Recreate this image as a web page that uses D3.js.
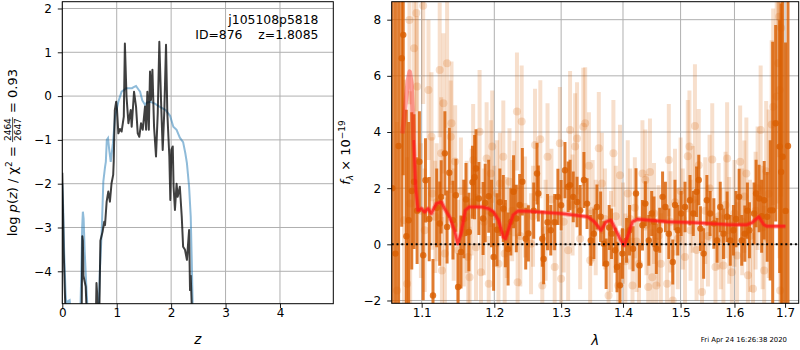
<!DOCTYPE html>
<html>
<head>
<meta charset="utf-8">
<script src="https://cdn.jsdelivr.net/npm/d3@7"></script>
<style>
  body { margin: 0; background: #fff; }
  svg { display: block; font-family: "DejaVu Sans", sans-serif; }
  text { white-space: pre; }
</style>
</head>
<body>
<svg id="chart" width="800" height="350"></svg>
<script>
'use strict';

// Header values
var objectName = 'j105108p5818';
var objectId = 876;
var zBest = '1.8085';
var chiNum = '2464';
var chiDen = '2647';
var chiRatio = '0.93';
var stampText = 'Fri Apr 24 16:26:38 2020';

// log p(z), grism fit (dark line)
var zGrism = [0.000, 0.010, 0.025, 0.045, 0.065, 0.355, 0.368, 0.378, 0.388, 0.405, 0.430, 0.455, 0.615, 0.628, 0.640, 0.655, 0.680, 0.700, 0.720, 0.740, 0.770, 0.785, 0.815, 0.845, 0.875, 0.905, 0.935, 0.945, 0.965, 0.990, 1.005, 1.030, 1.060, 1.090, 1.130, 1.150, 1.180, 1.215, 1.257, 1.275, 1.318, 1.355, 1.386, 1.415, 1.447, 1.478, 1.520, 1.540, 1.563, 1.590, 1.612, 1.630, 1.656, 1.686, 1.722, 1.754, 1.783, 1.814, 1.845, 1.875, 1.906, 1.930, 1.967, 1.985, 2.004, 2.030, 2.045, 2.070, 2.100, 2.120, 2.160, 2.195, 2.220, 2.255, 2.290, 2.330, 2.347, 2.360, 2.390];
var lnpGrism = [-1.75, -2.4, -3.5, -4.4, -5.2, -5.2, -3.2, -3.3, -4.1, -4.2, -4.35, -5.2, -5.2, -4.27, -4.5, -5.2, -5.0, -3.3, -3.2, -3.1, -2.87, -2.95, -2.41, -2.18, -2.41, -1.99, -1.80, -1.5, -0.32, -0.13, -0.3, -0.85, -0.75, -0.81, -0.47, 1.2, -0.01, -0.62, -0.32, -0.70, 0.10, -0.24, -0.85, -0.93, -0.62, -0.77, -0.24, -0.77, 0.10, -0.77, 0.56, -0.09, 0.60, -0.70, -1.38, -0.39, 1.24, -0.09, -1.23, -0.32, 1.17, -0.39, -1.38, -2.37, -1.23, -1.15, -2.07, -2.60, -2.0, -2.3, -2.07, -2.75, -3.44, -3.51, -3.74, -3.06, -4.43, -4.1, -5.2];

// log p(z), prior (blue line)
var zPrior = [0.000, 0.015, 0.035, 0.060, 0.085, 0.105, 0.135, 0.165, 0.330, 0.350, 0.365, 0.378, 0.392, 0.410, 0.440, 0.470, 0.665, 0.690, 0.724, 0.754, 0.785, 0.800, 0.818, 0.840, 0.860, 0.890, 0.930, 0.970, 1.030, 1.090, 1.180, 1.280, 1.320, 1.355, 1.400, 1.430, 1.470, 1.520, 1.550, 1.620, 1.700, 1.800, 1.900, 1.980, 2.040, 2.100, 2.160, 2.220, 2.260, 2.290, 2.330, 2.360, 2.380, 2.400];
var lnpPrior = [-2.0, -2.5, -3.6, -4.5, -5.0, -4.68, -4.66, -5.0, -5.0, -4.0, -3.0, -2.64, -2.8, -3.5, -4.3, -5.0, -5.0, -4.0, -3.1, -1.95, -1.62, -1.5, -1.0, -0.96, -1.2, -1.5, -1.08, -0.47, -0.13, 0.10, 0.18, 0.18, 0.21, 0.23, 0.15, 0.10, -0.1, -0.2, -0.15, -0.13, -0.17, -0.25, -0.32, -0.45, -0.70, -0.77, -0.95, -1.05, -1.3, -1.53, -2.07, -2.75, -3.82, -5.0];

var zTicks = [0, 1, 2, 3, 4];
var lnpTicks = [-4, -3, -2, -1, 0, 1, 2];

// Spectrum, first set (solid points)
var darkWave = [1.062, 1.066, 1.070, 1.074, 1.076, 1.080, 1.083, 1.087, 1.090, 1.094, 1.097, 1.102, 1.105, 1.110, 1.115, 1.120, 1.124, 1.126, 1.131, 1.134, 1.137, 1.142, 1.146, 1.149, 1.153, 1.157, 1.160, 1.164, 1.169, 1.172, 1.174, 1.178, 1.184, 1.187, 1.192, 1.196, 1.199, 1.204, 1.208, 1.213, 1.216, 1.220, 1.224, 1.228, 1.232, 1.237, 1.241, 1.246,
  1.250, 1.258, 1.263, 1.265, 1.271, 1.273, 1.279, 1.284, 1.290, 1.295, 1.300, 1.306, 1.311, 1.314, 1.319, 1.325, 1.330, 1.336, 1.341, 1.347, 1.352, 1.357, 1.363, 1.368, 1.372, 1.377, 1.381, 1.387, 1.390, 1.395, 1.399, 1.406, 1.411, 1.417, 1.422, 1.428, 1.433, 1.438, 1.444, 1.449, 1.453, 1.457, 1.463, 1.468,
  1.473, 1.479, 1.486, 1.490, 1.495, 1.501, 1.508, 1.517, 1.523, 1.529, 1.533, 1.536, 1.542, 1.548, 1.554, 1.561, 1.567, 1.573, 1.579, 1.586, 1.592, 1.598, 1.603, 1.609, 1.614, 1.620, 1.625, 1.629, 1.638, 1.642, 1.648, 1.653, 1.658, 1.664, 1.670, 1.675, 1.681, 1.689, 1.692, 1.695, 1.701, 1.706];
var darkFlux = [2.0, -0.33, 3.5, 6.63, 7.46, 0.29, 0.86, 1.9, 2.23, 1.2, 2.94, -0.39, 2.28, 0.9, -1.82, 1.3, 0.74, 1.69, 3.24, 0.62, 2.55, 0.86, 1.75, -1.52, -0.27, 0.9, 1.6, 0.44, 2.21, 2.39, 2.70, 1.63, 0.92, 1.47, 1.71, 1.1, -0.45, 0.52, 1.5, 1.27, 0.38, -0.17, 0.8, 1.87, 0.92, 1.4, 2.23, 0.2,
  0.39, 1.2, 2.52, 1.81, 0.20, -0.52, 0.79, 0.5, 0.79, 1.69, 1.39, 2.64, 2.05, 2.11, 1.69, 1.51, 1.21, 2.29, 1.45, 0.14, 0.38, 1.33, 0.98, 0.02, -0.69, 0.6, 0.38, -0.21, -0.81, -1.46, -0.33, 0.14, 0.5, -0.16, 1.81, -0.75, 0.68, 1.45, 0.14, 1.10, 0.8, -0.16, 0.5, 1.69,
  1.33, 0.38, -0.63, 1.4, 0.5, 1.10, 1.33, 1.57, 1.10, 1.87, 2.29, 0.56, -0.33, 1.57, 1.10, 0.74, 0.14, 1.33, 0.38, 0.98, 0.14, 0.5, 0.9, 1.69, 0.14, 0.38, 1.2, 0.5, 1.10, 1.81, 1.63, 1.0, 1.57, 0.98, 1.21, 1.21, 4.31, 3.48, 2.58, 3.12, 1.19, 3.5];
var darkErr = [9, 9, 8, 6, 5, 4.5, 3.5, 2.8, 2.4, 1.9, 1.8, 1.6, 1.5, 1.5, 1.3, 1.4, 1.5, 1.3, 1.5, 1.3, 1.6, 1.4, 1.3, 1.2, 1.3, 1.4, 1.3, 1.4, 1.3, 1.5, 1.4, 1.3, 1.3, 1.4, 1.3, 1.2, 1.2, 1.3, 1.2, 1.2, 1.2, 1.3, 1.2, 1.3, 1.2, 1.1, 1.2, 1.1,
  1.0, 1.0, 1.1, 1.0, 1.0, 0.9, 1.0, 0.9, 1.0, 1.0, 0.9, 1.0, 0.9, 0.9, 0.9, 0.9, 0.9, 1.0, 0.9, 0.9, 0.9, 0.8, 0.9, 0.8, 0.9, 0.8, 0.9, 0.8, 0.9, 0.8, 0.9, 0.8, 0.9, 0.8, 0.9, 0.8, 0.9, 0.8, 0.9, 0.8, 0.9, 0.9, 0.8, 0.9,
  0.9, 0.9, 0.8, 0.9, 0.9, 0.8, 0.9, 0.9, 0.8, 0.9, 0.9, 0.8, 0.9, 0.9, 0.8, 0.9, 0.8, 0.9, 0.9, 0.9, 0.9, 0.9, 1.0, 1.0, 0.9, 1.0, 1.0, 1.0, 1.1, 1.2, 1.2, 1.3, 1.4, 1.6, 2.5, 6, 3.5, 4.5, 6, 9, 6, 9];

// Spectrum, second set (faint points)
var lightWave = [1.068, 1.077, 1.081, 1.084, 1.085, 1.090, 1.093, 1.094, 1.099, 1.102, 1.104, 1.109, 1.113, 1.114, 1.118, 1.120, 1.124, 1.126, 1.127, 1.129, 1.131, 1.134, 1.139, 1.140, 1.143, 1.145, 1.149, 1.153, 1.157, 1.161, 1.163, 1.165, 1.168, 1.170, 1.174, 1.179, 1.181, 1.185, 1.189, 1.192, 1.195, 1.197, 1.200, 1.204, 1.206, 1.208, 1.213, 1.215, 1.218, 1.222, 1.226, 1.229, 1.233, 1.234, 1.238, 1.240, 1.245,
  1.254, 1.257, 1.260, 1.268, 1.271, 1.276, 1.279, 1.285, 1.290, 1.298, 1.300, 1.304, 1.311, 1.314, 1.318, 1.322, 1.325, 1.330, 1.335, 1.338, 1.344, 1.346, 1.350, 1.355, 1.360, 1.365, 1.370, 1.376, 1.380, 1.384, 1.388, 1.392, 1.395, 1.400, 1.404, 1.408, 1.412, 1.416, 1.420, 1.423, 1.427, 1.433, 1.438, 1.440, 1.443, 1.446, 1.450, 1.453, 1.457, 1.461, 1.465,
  1.476, 1.479, 1.482, 1.486, 1.490, 1.495, 1.500, 1.504, 1.508, 1.513, 1.516, 1.518, 1.522, 1.526, 1.529, 1.533, 1.539, 1.545, 1.550, 1.553, 1.558, 1.564, 1.570, 1.574, 1.579, 1.583, 1.586, 1.590, 1.595, 1.600, 1.605, 1.611, 1.615, 1.619, 1.623, 1.626, 1.630, 1.636, 1.641, 1.645, 1.651, 1.655, 1.658, 1.662, 1.667, 1.673, 1.676, 1.683, 1.686, 1.688, 1.689, 1.690, 1.692];
var lightFlux = [-1.64, 0.86, -1.4, 7.99, 1.45, 6.98, 8.24, 5.62, 1.2, 8.5, 0.5, 5.5, 3.83, 1.81, 0.98, 1.5, 6.21, 3.24, -0.93, 5.02, -0.33, 6.45, 3.83, 4.31, 0.7, 2.95, -0.21, 1.9, 0.4, 0.98, -0.45, -1.17, 1.5, 3.0, -0.1, 4.01, -0.99, 0.8, 3.06, -1.4, 2.52, 3.48, 1.0, 1.81, -0.69, 2.17, 3.12, -0.33, 0.6, 2.23, 1.2, 1.99, 4.73, -1.35, 0.3, 4.37, 1.33,
  0.02, 1.0, 3.54, 3.74, -1.47, 0.5, 3.12, 1.6, -0.81, 3.6, -1.23, 0.8, -0.21, 4.07, 1.4, 3.48, 3.77, 0.2, 4.19, 4.31, 2.8, -0.57, 1.2, 0.6, 3.42, 2.17, 0.9, -1.82, 0.1, 3.24, 1.0, -1.47, 2.46, 0.4, -0.6, 1.81, 0.9, -1.47, 1.3, 0.1, -0.69, 2.52, 2.29, 0.7, -1.52, 2.58, -1.17, 1.1, -1.47, 0.3, -0.69,
  -1.4, 3.0, 0.8, -2.0, 1.5, 0.2, 1.9, 0.9, -0.45, 3.14, 3.48, 0.5, 1.6, 4.21, -0.2, 2.82, -1.7, 1.2, 0.3, 2.0, 3.02, -0.81, 1.0, 0.2, -0.75, 1.4, 3.06, 0.5, -0.99, 1.1, -0.4, 2.94, 0.8, 1.7, 2.52, -1.1, 0.3, -1.58, 1.2, 2.0, 4.07, 0.6, -0.93, 2.6, 1.8, 4.27, 4.9, 5.26, 6.45, 8.1, 5.5, -1.64, 7.7];
var lightErr = [6, 5, 4.5, 3, 4, 3, 3.5, 2.5, 2.4, 3.5, 2.2, 2.5, 2.3, 2.0, 2.0, 2.1, 2.4, 2.0, 1.9, 2.5, 2.0, 2.3, 2.0, 2.2, 2.0, 2.0, 1.8, 1.9, 1.9, 2.0, 1.9, 1.8, 1.9, 2.0, 1.9, 2.2, 1.8, 1.9, 2.0, 1.7, 1.9, 2.0, 1.8, 1.9, 1.8, 1.8, 2.0, 1.8, 1.8, 1.9, 1.8, 1.7, 2.1, 1.7, 1.8, 2.0, 1.8,
  1.8, 1.8, 2.0, 2.1, 1.7, 1.8, 1.9, 1.8, 1.7, 2.0, 1.7, 1.8, 1.8, 2.1, 1.8, 1.9, 2.0, 1.8, 2.1, 2.0, 1.9, 1.8, 1.8, 1.7, 2.0, 1.8, 1.8, 1.7, 1.8, 1.9, 1.8, 1.7, 1.8, 1.8, 1.7, 1.9, 1.8, 1.7, 1.8, 1.8, 1.7, 1.9, 1.8, 1.8, 1.7, 1.9, 1.7, 1.8, 1.7, 1.8, 1.8,
  1.8, 2.0, 1.8, 1.8, 1.9, 1.8, 1.9, 1.8, 1.8, 2.0, 2.0, 1.8, 1.9, 2.2, 1.8, 2.0, 1.8, 1.9, 1.8, 1.9, 2.0, 1.8, 1.9, 1.8, 1.8, 1.9, 2.0, 1.9, 1.8, 1.9, 1.9, 2.0, 1.9, 2.0, 2.0, 1.9, 2.0, 2.0, 2.1, 2.2, 2.3, 2.2, 2.3, 2.5, 3.0, 3.0, 3.5, 4.0, 5.0, 5.0, 6.0, 6.0, 6.0];

// Best-fit model
var modelWave = [1.0749, 1.0777, 1.0821, 1.0843, 1.0866, 1.0895, 1.0921, 1.0951, 1.0996, 1.1040, 1.1083, 1.1128, 1.1195, 1.1262, 1.1306, 1.1373, 1.1441, 1.1485, 1.1531, 1.1590, 1.1644, 1.1735, 1.1827, 1.1920, 1.1990, 1.2060, 1.2130, 1.2163, 1.2201, 1.2273, 1.2346, 1.2493, 1.2999, 1.3421, 1.3529, 1.3636, 1.3717, 1.3799, 1.3881, 1.3964, 1.4020, 1.4075, 1.4159, 1.4244, 1.4764, 1.5299, 1.5924, 1.6243, 1.6341, 1.6473, 1.6571, 1.6639, 1.7007];
var modelFlux = [3.95, 4.67, 5.86, 6.15, 5.74, 3.71, 2.05, 1.21, 1.27, 1.15, 1.27, 1.10, 1.45, 1.51, 1.27, 0.98, 0.5, 0.02, 0.38, 1.21, 1.33, 1.33, 1.33, 1.27, 1.15, 0.86, 0.26, 0.2, 0.5, 1.04, 1.19, 1.18, 1.10, 0.98, 0.80, 0.5, 0.80, 0.86, 0.5, 0.14, -0.04, 0.26, 0.80, 0.89, 0.80, 0.77, 0.70, 0.70, 0.77, 0.98, 0.70, 0.64, 0.64];

var waveTicks = [1.1, 1.2, 1.3, 1.4, 1.5, 1.6, 1.7];
var fluxTicks = [-2, 0, 2, 4, 6, 8];

var ORANGE = '#d95f02';
var GRID = '#b0b0b0';
var FONT = 12;

// Panel boxes
var L = {x0: 62.3, x1: 333.3, y0: 1.7, y1: 303.7};
var R = {x0: 391.7, x1: 798.7, y0: 1.7, y1: 303.3};

var svg = d3.select('#chart');
svg.append('rect').attr('width', 800).attr('height', 350).attr('fill', '#fff');

var defs = svg.append('defs');
[['clipL', L], ['clipR', R]].forEach(function(c) {
  defs.append('clipPath').attr('id', c[0]).append('rect')
    .attr('x', c[1].x0).attr('y', c[1].y0)
    .attr('width', c[1].x1 - c[1].x0).attr('height', c[1].y1 - c[1].y0);
});

// Scales
var zScale = d3.scaleLinear().domain([0, 4.98]).range([L.x0, L.x1]);
var lnpScale = d3.scaleLinear().domain([-4.74, 2.155]).range([L.y1, L.y0]);
var waveScale = d3.scaleLog().domain([1.0612, 1.728]).range([R.x0, R.x1]);
var fluxScale = d3.scaleLinear().domain([-2.1, 8.64]).range([R.y1, R.y0]);

var drawGrid = function(xs, ys, xt, yt, box) {
  var g = svg.append('g').attr('stroke', GRID).attr('stroke-width', 1);
  g.selectAll('.gx').data(xt).enter().append('line')
    .attr('x1', function(d) { return xs(d); }).attr('x2', function(d) { return xs(d); })
    .attr('y1', box.y0).attr('y2', box.y1);
  g.selectAll('.gy').data(yt).enter().append('line')
    .attr('y1', function(d) { return ys(d); }).attr('y2', function(d) { return ys(d); })
    .attr('x1', box.x0).attr('x2', box.x1);
};

var drawAxes = function(xs, ys, xt, yt, box, xfmt, yfmt) {
  var gx = svg.append('g')
    .attr('transform', 'translate(0,' + box.y1 + ')')
    .call(d3.axisBottom(xs).tickValues(xt).tickFormat(xfmt).tickSize(4.5).tickPadding(0.5));
  var gy = svg.append('g')
    .attr('transform', 'translate(' + box.x0 + ',0)')
    .call(d3.axisLeft(ys).tickValues(yt).tickFormat(yfmt).tickSize(4.5).tickPadding(6));
  [gx, gy].forEach(function(g) {
    g.select('.domain').remove();
    g.attr('font-size', FONT).attr('font-family', 'DejaVu Sans');
    g.selectAll('line').attr('stroke', '#000').attr('stroke-width', 0.9);
    g.selectAll('text').attr('fill', '#000');
  });
  // frame
  svg.append('rect')
    .attr('x', box.x0).attr('y', box.y0)
    .attr('width', box.x1 - box.x0).attr('height', box.y1 - box.y0)
    .attr('fill', 'none').attr('stroke', '#000').attr('stroke-width', 1);
};

// ---- Left panel: log p(z) ----
drawGrid(zScale, lnpScale, zTicks, lnpTicks, L);

var pzLine = d3.line()
  .x(function(d) { return zScale(d[0]); })
  .y(function(d) { return lnpScale(d[1]); });

var left = svg.append('g').attr('clip-path', 'url(#clipL)');
left.append('path')
  .attr('d', pzLine(d3.zip(zPrior, lnpPrior)))
  .attr('fill', 'none').attr('stroke', '#1f77b4').attr('stroke-opacity', 0.5)
  .attr('stroke-width', 2);
left.append('path')
  .attr('d', pzLine(d3.zip(zGrism, lnpGrism)))
  .attr('fill', 'none').attr('stroke', '#000').attr('stroke-opacity', 0.75)
  .attr('stroke-width', 2).attr('stroke-linejoin', 'round');

drawAxes(zScale, lnpScale, zTicks, lnpTicks, L, d3.format('d'), d3.format('d'));

svg.append('text')
  .attr('x', 318.5).attr('y', 24).attr('text-anchor', 'end').attr('font-size', 12.4)
  .text(objectName);
svg.append('text')
  .attr('x', 318.5).attr('y', 39).attr('text-anchor', 'end').attr('font-size', 12.4)
  .text('ID=' + objectId + '    z=' + zBest);

// x label
svg.append('text')
  .attr('x', (L.x0 + L.x1) / 2).attr('y', 344).attr('text-anchor', 'middle')
  .attr('font-size', 13.5).attr('font-style', 'italic').text('z');

// y label with stacked fraction
var ylab = svg.append('g');
var t1 = ylab.append('text').attr('font-size', 13);
t1.append('tspan').text('log ');
t1.append('tspan').attr('font-style', 'italic').text('p');
t1.append('tspan').text('(');
t1.append('tspan').attr('font-style', 'italic').text('z');
t1.append('tspan').text(') / χ');
t1.append('tspan').attr('font-size', 9).attr('dy', -5).text('2');
t1.append('tspan').attr('dy', 5).text(' = ');
var w1 = t1.node().getComputedTextLength();
var numT = ylab.append('text').attr('font-size', 9).attr('text-anchor', 'middle').attr('y', -6.3).text(chiNum);
var denT = ylab.append('text').attr('font-size', 9).attr('text-anchor', 'middle').attr('y', 4.2).text(chiDen);
var fw = Math.max(numT.node().getComputedTextLength(), denT.node().getComputedTextLength()) + 2;
numT.attr('x', w1 + fw / 2);
denT.attr('x', w1 + fw / 2);
ylab.append('line')
  .attr('x1', w1).attr('x2', w1 + fw).attr('y1', -4.4).attr('y2', -4.4)
  .attr('stroke', '#000').attr('stroke-width', 0.7);
var t3 = ylab.append('text').attr('font-size', 13).attr('x', w1 + fw).text(' = ' + chiRatio);
var total = w1 + fw + t3.node().getComputedTextLength();
ylab.attr('transform', 'translate(17,' + ((L.y0 + L.y1) / 2 + total / 2) + ') rotate(-90)');

// ---- Right panel: spectrum ----
drawGrid(waveScale, fluxScale, waveTicks, fluxTicks, R);

var toPoints = function(w, f, e) {
  return w.map(function(d, i) { return {w: d, f: f[i], e: e[i]}; });
};

var drawSeries = function(pts, barW, r, op) {
  var g = svg.append('g').attr('clip-path', 'url(#clipR)');
  g.selectAll('line').data(pts).enter().append('line')
    .attr('x1', function(d) { return waveScale(d.w); })
    .attr('x2', function(d) { return waveScale(d.w); })
    .attr('y1', function(d) { return fluxScale(d.f - d.e); })
    .attr('y2', function(d) { return fluxScale(d.f + d.e); })
    .attr('stroke', ORANGE).attr('stroke-width', barW).attr('stroke-opacity', op);
  g.selectAll('circle').data(pts).enter().append('circle')
    .attr('cx', function(d) { return waveScale(d.w); })
    .attr('cy', function(d) { return fluxScale(d.f); })
    .attr('r', r)
    .attr('fill', ORANGE).attr('fill-opacity', op);
};

drawSeries(toPoints(lightWave, lightFlux, lightErr), 4, 4, 0.2);
drawSeries(toPoints(darkWave, darkFlux, darkErr), 3, 3.2, 0.82);

// Model
var specLine = d3.line()
  .x(function(d) { return waveScale(d[0]); })
  .y(function(d) { return fluxScale(d[1]); });
var model = d3.zip(modelWave, modelFlux);
var mg = svg.append('g').attr('clip-path', 'url(#clipR)');
mg.append('path')
  .attr('d', specLine(model))
  .attr('fill', 'none').attr('stroke', '#ff2020').attr('stroke-opacity', 0.4)
  .attr('stroke-width', 4.5).attr('stroke-linejoin', 'round');
mg.append('path')
  .attr('d', specLine(model.filter(function(d) { return d[0] >= 1.089; })))
  .attr('fill', 'none').attr('stroke', '#ff1a1a').attr('stroke-opacity', 0.75)
  .attr('stroke-width', 2.5).attr('stroke-linejoin', 'round');

// Zero level
svg.append('line')
  .attr('x1', R.x0).attr('x2', R.x1)
  .attr('y1', fluxScale(0)).attr('y2', fluxScale(0))
  .attr('stroke', '#000').attr('stroke-width', 2).attr('stroke-dasharray', '2,2.8');

drawAxes(waveScale, fluxScale, waveTicks, fluxTicks, R, d3.format('.1f'), d3.format('d'));

svg.append('text')
  .attr('x', (R.x0 + R.x1) / 2).attr('y', 345).attr('text-anchor', 'middle')
  .attr('font-size', 13.5).attr('font-style', 'italic').text('λ');

var yr = svg.append('text')
  .attr('transform', 'translate(350,' + ((R.y0 + R.y1) / 2) + ') rotate(-90)')
  .attr('text-anchor', 'middle').attr('font-size', 13);
yr.append('tspan').attr('font-style', 'italic').text('f');
yr.append('tspan').attr('font-style', 'italic').attr('font-size', 9).attr('dy', 3).text('λ');
yr.append('tspan').attr('dy', -3).text(' × 10');
yr.append('tspan').attr('font-size', 9).attr('dy', -5).text('−19');

svg.append('text')
  .attr('x', 787).attr('y', 341.5).attr('text-anchor', 'end').attr('font-size', 6.9)
  .text(stampText);
</script>
</body>
</html>
